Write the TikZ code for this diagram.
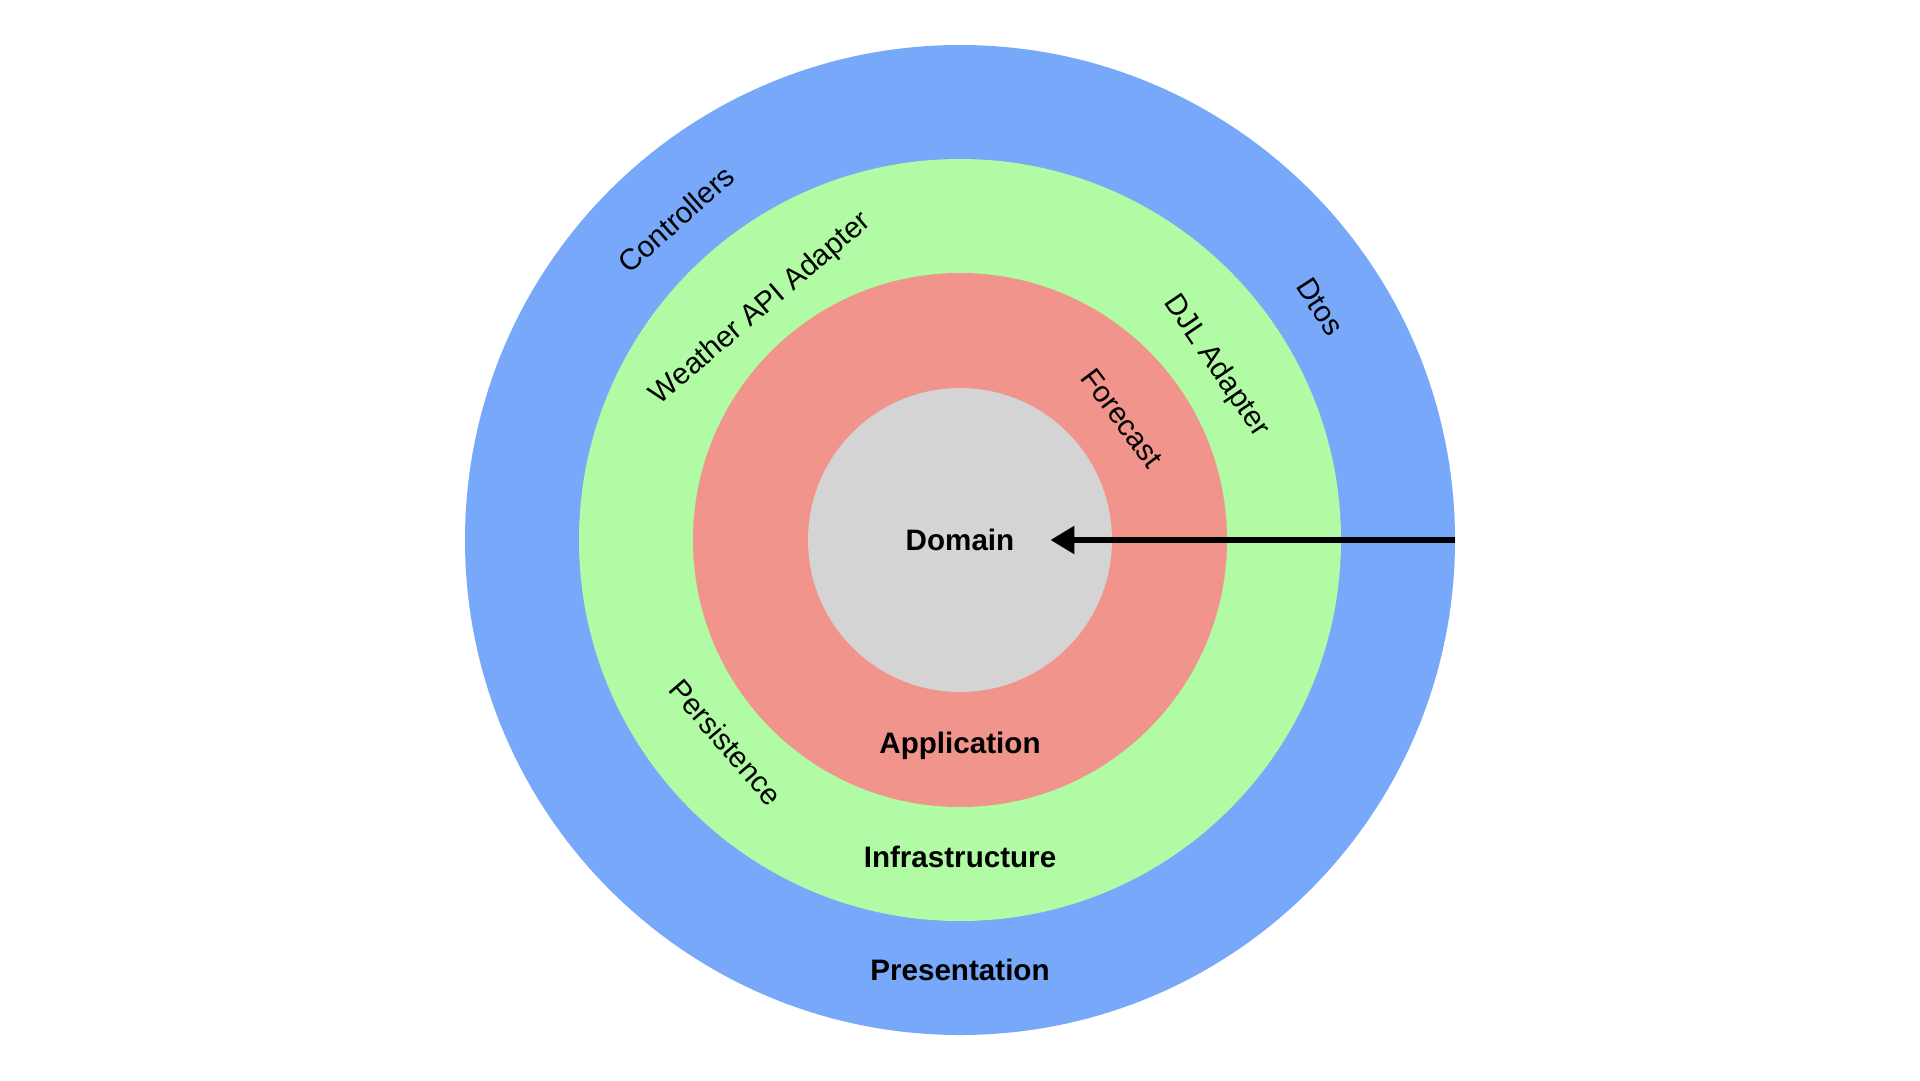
\documentclass[tikz,border=0pt]{standalone}
\usepackage{fontspec}
\setmainfont{Liberation Sans}
\usetikzlibrary{arrows.meta}
\definecolor{presblue}{RGB}{120,168,250}
\definecolor{infragreen}{RGB}{176,251,164}
\definecolor{appred}{RGB}{240,148,140}
\definecolor{domgray}{RGB}{212,212,212}
\tikzset{
  ring/.style={circle, draw=none, inner sep=0pt, outer sep=0pt},
  layerlabel/.style={font=\fontsize{29.6}{34}\selectfont\bfseries, inner sep=0pt},
  partlabel/.style={font=\fontsize{29.6}{34}\selectfont, inner sep=0pt},
  dep/.style={line width=6pt, -{Triangle[length=24pt,width=27pt]}}
}
\begin{document}
\begin{tikzpicture}[x=1pt,y=-1pt]
\useasboundingbox (0,0) rectangle (1920,1080);
\fill[white] (0,0) rectangle (1920,1080);
\node[ring, fill=presblue, minimum size=990pt] (pres) at (960,540) {};
\node[ring, fill=infragreen, minimum size=762pt] (infra) at (960,540) {};
\node[ring, fill=appred, minimum size=534pt] (app) at (960,540) {};
\node[ring, fill=domgray, minimum size=304pt] (dom) at (960,540) {};
% layer names
\node[layerlabel] (domlbl) at (960,540) {Domain};
\node[layerlabel] (applbl) at (960,746) {Application};
\node[layerlabel] (infralbl) at (960,857) {Infrastructure};
\node[layerlabel] (preslbl) at (960,970) {Presentation};
% component names
\node[partlabel, rotate=41.5] (controllers) at (676,219) {Controllers};
\node[partlabel, rotate=-57] (dtos) at (1320,307) {Dtos};
\node[partlabel, rotate=40.5] (weather) at (761,309) {Weather API Adapter};
\node[partlabel, rotate=-55.8] (djl) at (1216,366) {DJL Adapter};
\node[partlabel, rotate=-53] (forecast) at (1122,418) {Forecast};
\node[partlabel, rotate=-49.3] (persist) at (726,742) {Persistence};
% dependency arrow
\coordinate (tip) at ([xshift=36pt]domlbl.east);
\draw[dep] (pres.east) -- (tip);
\end{tikzpicture}
\end{document}
